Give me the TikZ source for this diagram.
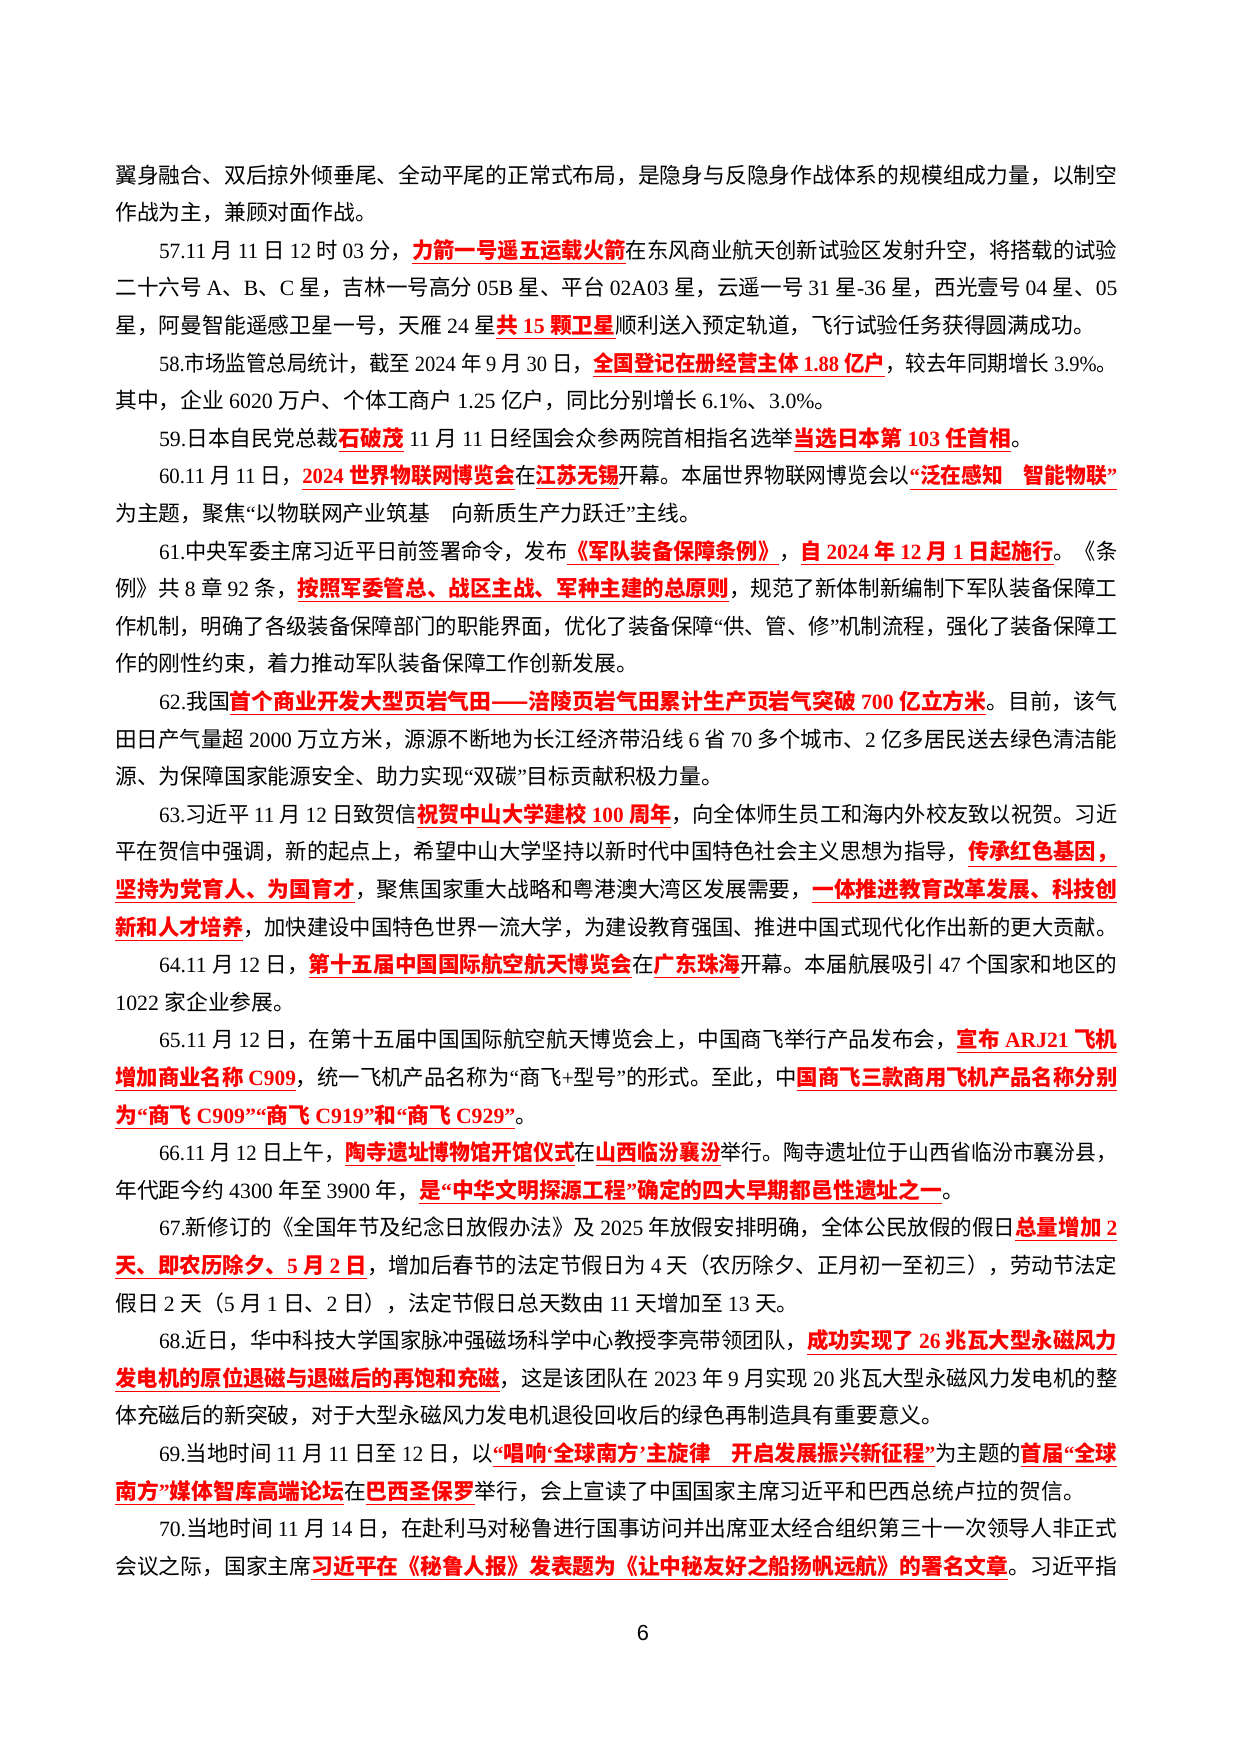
\documentclass[tikz,border=0pt]{standalone}
\usepackage{fontspec}
\usepackage{graphicx}
\setmainfont{Liberation Serif}
\setsansfont{Noto Sans CJK SC}
\newfontfamily\pgnum{Liberation Sans}
\newXeTeXintercharclass\CJKc
\makeatletter
\count255="4E00 \loop \XeTeXcharclass\count255=\CJKc \advance\count255 1 \ifnum\count255<"A000 \repeat
\count255="3000 \loop \XeTeXcharclass\count255=\CJKc \advance\count255 1 \ifnum\count255<"3040 \repeat
\count255="FF00 \loop \XeTeXcharclass\count255=\CJKc \advance\count255 1 \ifnum\count255<"FFF0 \repeat
\XeTeXcharclass"2014=\CJKc
\XeTeXcharclass"201C=0 \XeTeXcharclass"201D=0 \XeTeXcharclass"2018=0 \XeTeXcharclass"2019=0
\makeatother
\XeTeXinterchartoks 0 \CJKc = {\sffamily}
\XeTeXinterchartoks 4095 \CJKc = {\sffamily}
\XeTeXinterchartoks \CJKc 0 = {\rmfamily}
\XeTeXinterchartoks 4095 0 = {\rmfamily}
\newcommand\cjkset{\fontsize{10.5}{12}\selectfont\XeTeXinterchartokenstate=1 \XeTeXlinebreaklocale "zh"\XeTeXlinebreakskip=0pt plus 2pt minus 1pt\relax}
\newlength\fullw \setlength\fullw{16.97cm}
\newlength\indw \setlength\indw{16.23cm}
\newcommand\F[1]{\resizebox{\fullw}{\height}{\hbox{#1}}}
\newcommand\I[1]{\resizebox{\indw}{\height}{\hbox{#1}}}
\newcommand\hl[1]{{\color{red}\bfseries$\underline{\hbox{#1}}$}}
\tikzset{ln/.style={anchor=base west, inner sep=0pt, font=\cjkset}}
\begin{document}
\begin{tikzpicture}[x=0.016935cm,y=-0.016935cm]
\useasboundingbox[fill=white] (0,0) rectangle (1240,1754);
\node[ln] (l1) at (115,183) {\F{翼身融合、双后掠外倾垂尾、全动平尾的正常式布局，是隐身与反隐身作战体系的规模组成力量，以制空}};
\node[ln] (l2) at (115,220.6) {作战为主，兼顾对面作战。};
\node[ln] (l3) at (158.6,258.2) {\I{57.11 月 11 日 12 时 03 分，\hl{力箭一号遥五运载火箭}在东风商业航天创新试验区发射升空，将搭载的试验}};
\node[ln] (l4) at (115,295.8) {\F{二十六号 A、B、C 星，吉林一号高分 05B 星、平台 02A03 星，云遥一号 31 星-36 星，西光壹号 04 星、05}};
\node[ln] (l5) at (115,333.4) {星，阿曼智能遥感卫星一号，天雁 24 星\hl{共 15 颗卫星}顺利送入预定轨道，飞行试验任务获得圆满成功。};
\node[ln] (l6) at (158.6,371) {\I{58.市场监管总局统计，截至 2024 年 9 月 30 日，\hl{全国登记在册经营主体 1.88 亿户}，较去年同期增长 3.9\%。}};
\node[ln] (l7) at (115,408.6) {其中，企业 6020 万户、个体工商户 1.25 亿户，同比分别增长 6.1\%、3.0\%。};
\node[ln] (l8) at (158.6,446.2) {59.日本自民党总裁\hl{石破茂} 11 月 11 日经国会众参两院首相指名选举\hl{当选日本第 103 任首相}。};
\node[ln] (l9) at (158.6,483.8) {\I{60.11 月 11 日，\hl{2024 世界物联网博览会}在\hl{江苏无锡}开幕。本届世界物联网博览会以\hl{“泛在感知　智能物联”}}};
\node[ln] (l10) at (115,521.4) {为主题，聚焦“以物联网产业筑基　向新质生产力跃迁”主线。};
\node[ln] (l11) at (158.6,559) {\I{61.中央军委主席习近平日前签署命令，发布\hl{《军队装备保障条例》}，\hl{自 2024 年 12 月 1 日起施行}。《条}};
\node[ln] (l12) at (115,596.6) {\F{例》共 8 章 92 条，\hl{按照军委管总、战区主战、军种主建的总原则}，规范了新体制新编制下军队装备保障工}};
\node[ln] (l13) at (115,634.2) {\F{作机制，明确了各级装备保障部门的职能界面，优化了装备保障“供、管、修”机制流程，强化了装备保障工}};
\node[ln] (l14) at (115,671.8) {作的刚性约束，着力推动军队装备保障工作创新发展。};
\node[ln] (l15) at (158.6,709.4) {\I{62.我国\hl{首个商业开发大型页岩气田——涪陵页岩气田累计生产页岩气突破 700 亿立方米}。目前，该气}};
\node[ln] (l16) at (115,747) {\F{田日产气量超 2000 万立方米，源源不断地为长江经济带沿线 6 省 70 多个城市、2 亿多居民送去绿色清洁能}};
\node[ln] (l17) at (115,784.6) {源、为保障国家能源安全、助力实现“双碳”目标贡献积极力量。};
\node[ln] (l18) at (158.6,822.2) {\I{63.习近平 11 月 12 日致贺信\hl{祝贺中山大学建校 100 周年}，向全体师生员工和海内外校友致以祝贺。习近}};
\node[ln] (l19) at (115,859.8) {\F{平在贺信中强调，新的起点上，希望中山大学坚持以新时代中国特色社会主义思想为指导，\hl{传承红色基因，}}};
\node[ln] (l20) at (115,897.4) {\F{\hl{坚持为党育人、为国育才}，聚焦国家重大战略和粤港澳大湾区发展需要，\hl{一体推进教育改革发展、科技创}}};
\node[ln] (l21) at (115,935) {\F{\hl{新和人才培养}，加快建设中国特色世界一流大学，为建设教育强国、推进中国式现代化作出新的更大贡献。}};
\node[ln] (l22) at (158.6,972.6) {\I{64.11 月 12 日，\hl{第十五届中国国际航空航天博览会}在\hl{广东珠海}开幕。本届航展吸引 47 个国家和地区的}};
\node[ln] (l23) at (115,1010.2) {1022 家企业参展。};
\node[ln] (l24) at (158.6,1047.8) {\I{65.11 月 12 日，在第十五届中国国际航空航天博览会上，中国商飞举行产品发布会，\hl{宣布 ARJ21 飞机}}};
\node[ln] (l25) at (115,1085.4) {\F{\hl{增加商业名称 C909}，统一飞机产品名称为“商飞+型号”的形式。至此，中\hl{国商飞三款商用飞机产品名称分别}}};
\node[ln] (l26) at (115,1123) {\hl{为“商飞 C909”“商飞 C919”和“商飞 C929”}。};
\node[ln] (l27) at (158.6,1160.6) {\I{66.11 月 12 日上午，\hl{陶寺遗址博物馆开馆仪式}在\hl{山西临汾襄汾}举行。陶寺遗址位于山西省临汾市襄汾县，}};
\node[ln] (l28) at (115,1198.2) {年代距今约 4300 年至 3900 年，\hl{是“中华文明探源工程”确定的四大早期都邑性遗址之一}。};
\node[ln] (l29) at (158.6,1235.8) {\I{67.新修订的《全国年节及纪念日放假办法》及 2025 年放假安排明确，全体公民放假的假日\hl{总量增加 2}}};
\node[ln] (l30) at (115,1273.4) {\F{\hl{天、即农历除夕、5 月 2 日}，增加后春节的法定节假日为 4 天（农历除夕、正月初一至初三），劳动节法定}};
\node[ln] (l31) at (115,1311) {假日 2 天（5 月 1 日、2 日），法定节假日总天数由 11 天增加至 13 天。};
\node[ln] (l32) at (158.6,1348.6) {\I{68.近日，华中科技大学国家脉冲强磁场科学中心教授李亮带领团队，\hl{成功实现了 26 兆瓦大型永磁风力}}};
\node[ln] (l33) at (115,1386.2) {\F{\hl{发电机的原位退磁与退磁后的再饱和充磁}，这是该团队在 2023 年 9 月实现 20 兆瓦大型永磁风力发电机的整}};
\node[ln] (l34) at (115,1423.8) {体充磁后的新突破，对于大型永磁风力发电机退役回收后的绿色再制造具有重要意义。};
\node[ln] (l35) at (158.6,1461.4) {\I{69.当地时间 11 月 11 日至 12 日，以\hl{“唱响‘全球南方’主旋律　开启发展振兴新征程”}为主题的\hl{首届“全球}}};
\node[ln] (l36) at (115,1499) {\hl{南方”媒体智库高端论坛}在\hl{巴西圣保罗}举行，会上宣读了中国国家主席习近平和巴西总统卢拉的贺信。};
\node[ln] (l37) at (158.6,1536.6) {\I{70.当地时间 11 月 14 日，在赴利马对秘鲁进行国事访问并出席亚太经合组织第三十一次领导人非正式}};
\node[ln] (l38) at (115,1574.2) {\F{会议之际，国家主席\hl{习近平在《秘鲁人报》发表题为《让中秘友好之船扬帆远航》的署名文章}。习近平指}};
\node[anchor=base, inner sep=0pt, font=\pgnum\fontsize{10.5}{12}\selectfont] (pg) at (643,1640) {6};
\end{tikzpicture}
\end{document}
